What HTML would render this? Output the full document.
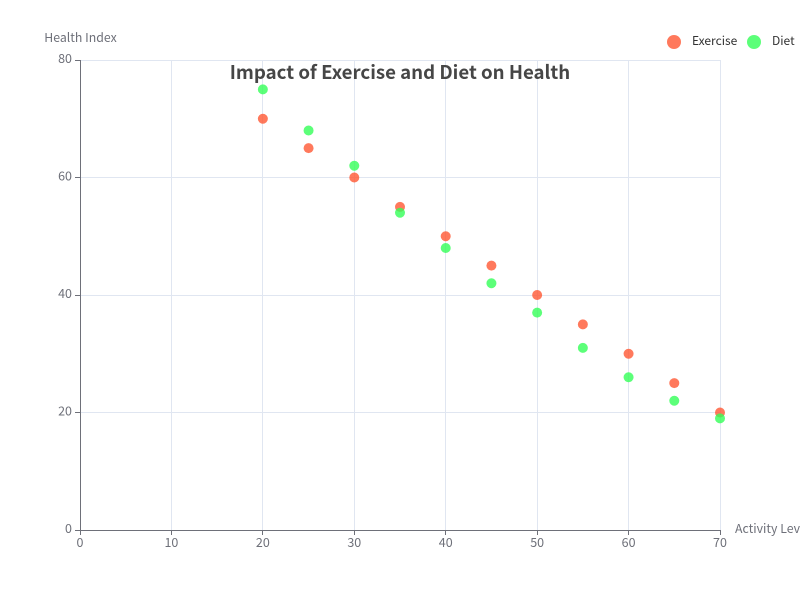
<!DOCTYPE html>
<html lang="en">
<head>
<meta charset="utf-8">
<title>Impact of Exercise and Diet on Health</title>
<style>
  html, body { margin: 0; padding: 0; background: #fff; width: 800px; height: 600px; overflow: hidden; }
  svg { display: block; }
  text { font-family: "Noto Sans CJK SC", "Liberation Sans", sans-serif; }
</style>
</head>
<body>
<svg id="chart" xmlns="http://www.w3.org/2000/svg" width="800" height="600" viewBox="0 0 800 600"></svg>
<script>
const xTicks = [0, 10, 20, 30, 40, 50, 60, 70];
const yTicks = [0, 20, 40, 60, 80];
const activityLevels = [20, 25, 30, 35, 40, 45, 50, 55, 60, 65, 70];
const exerciseValues = [70, 65, 60, 55, 50, 45, 40, 35, 30, 25, 20];
const dietValues = [75, 68, 62, 54, 48, 42, 37, 31, 26, 22, 19];
const exerciseLabel = 'Exercise';
const dietLabel = 'Diet';

const NS = 'http://www.w3.org/2000/svg';
const svg = document.getElementById('chart');
const plot = { left: 80, right: 720, top: 60, bottom: 530 };
const xMax = 70;
const yMax = 80;
const xScale = v => plot.left + (v / xMax) * (plot.right - plot.left);
const yScale = v => plot.bottom - (v / yMax) * (plot.bottom - plot.top);

function make(tag, attrs, text) {
  const el = document.createElementNS(NS, tag);
  Object.keys(attrs).forEach(k => el.setAttribute(k, attrs[k]));
  if (text !== undefined) el.textContent = text;
  svg.appendChild(el);
  return el;
}
const crisp = v => Math.floor(v) + 0.5;
const axisColor = '#6E7079';
const gridColor = '#E0E6F1';

xTicks.forEach(t => {
  if (t === 0) return;
  const x = crisp(xScale(t));
  const line = make('line', { x1: x, x2: x, y1: plot.top, y2: plot.bottom, stroke: gridColor, 'stroke-width': 1 });
  
  
});
yTicks.forEach(t => {
  if (t === 0) return;
  const y = crisp(yScale(t));
  const line = make('line', { x1: plot.left, x2: plot.right + 1, y1: y, y2: y, stroke: gridColor, 'stroke-width': 1 });
  
  
});

const xAxisLine = make('line', { x1: plot.left, x2: plot.right + 1, y1: plot.bottom + 0.5, y2: plot.bottom + 0.5, stroke: axisColor, 'stroke-width': 1 });


const yAxisLine = make('line', { x1: plot.left + 0.5, x2: plot.left + 0.5, y1: plot.top, y2: plot.bottom + 1, stroke: axisColor, 'stroke-width': 1 });



xTicks.forEach(t => {
  const x = crisp(xScale(t));
  const tick = make('line', { x1: x, x2: x, y1: plot.bottom, y2: plot.bottom + 5, stroke: axisColor, 'stroke-width': 1 });
  
  
  const label = make('text', { x: xScale(t), y: plot.bottom + 17, 'text-anchor': 'middle', 'font-size': 12.5, fill: axisColor }, String(t));
  
  
});
yTicks.forEach(t => {
  const y = crisp(yScale(t));
  const tick = make('line', { x1: plot.left - 5, x2: plot.left, y1: y, y2: y, stroke: axisColor, 'stroke-width': 1 });
  
  
  const label = make('text', { x: plot.left - 8, y: yScale(t) + 3, 'text-anchor': 'end', 'font-size': 12.5, fill: axisColor }, String(t));
  
  
});

const xTitle = make('text', { x: 735, y: 533, 'font-size': 12.3, fill: axisColor }, 'Activity Level');


const yTitle = make('text', { x: 80.5, y: 42, 'text-anchor': 'middle', 'font-size': 12.3, fill: axisColor }, 'Health Index');



activityLevels.forEach((a, i) => {
  const dot = make('circle', { cx: xScale(a), cy: yScale(exerciseValues[i]), r: 5, fill: '#FF5733', 'fill-opacity': 0.8 });
  
  
});
activityLevels.forEach((a, i) => {
  const dot = make('circle', { cx: xScale(a), cy: yScale(dietValues[i]), r: 5, fill: '#33FF57', 'fill-opacity': 0.8 });
  
  
});

const title = make('text', { x: 400, y: 79, 'text-anchor': 'middle', 'font-size': 18.65, 'font-weight': 'bold', fill: '#464646' }, 'Impact of Exercise and Diet on Health');



const legendExerciseMarker = make('circle', { cx: 674, cy: 42, r: 7, fill: '#FF5733', 'fill-opacity': 0.8 });


const legendExerciseText = make('text', { x: 692, y: 45, 'font-size': 12, fill: '#333' }, exerciseLabel);


const legendDietMarker = make('circle', { cx: 754, cy: 42, r: 7, fill: '#33FF57', 'fill-opacity': 0.8 });


const legendDietText = make('text', { x: 772, y: 45, 'font-size': 12, fill: '#333' }, dietLabel);


</script>
</body>
</html>
